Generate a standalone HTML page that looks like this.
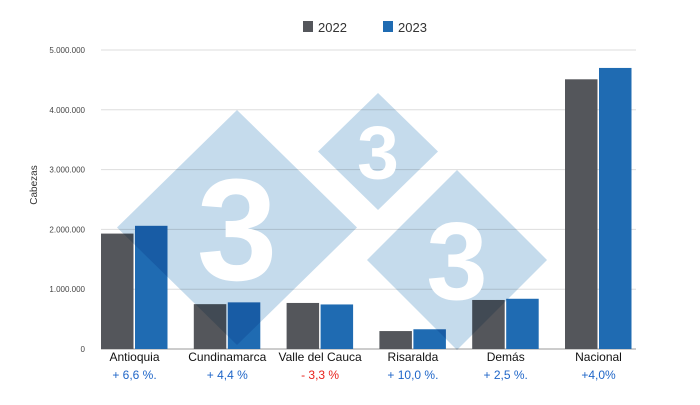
<!DOCTYPE html>
<html><head><meta charset="utf-8"><style>
body{margin:0;background:#fff;font-family:"Liberation Sans",sans-serif}
svg text{font-family:"Liberation Sans",sans-serif}
#wm polygon{mix-blend-mode:multiply}
</style></head><body>
<svg id="c" width="700" height="400">
<rect width="700" height="400" fill="#fff"/>
<g id="grid"></g><g id="bars"></g><g id="wm"></g><g id="labels"></g>
<g>
<rect x="303" y="21" width="10" height="11" fill="#54565b"/>
<text x="318" y="32" font-size="13" fill="#333">2022</text>
<rect x="383" y="21" width="10" height="11" fill="#1f6bb2"/>
<text x="398" y="32" font-size="13" fill="#333">2023</text>
</g>
<text transform="translate(37,185) rotate(-90)" text-anchor="middle" font-size="10" fill="#333">Cabezas</text>
</svg>
<script>
const categories=["Antioquia","Cundinamarca","Valle del Cauca","Risaralda","Demás","Nacional"];
const values2022=[1930000,750000,770000,300000,820000,4510000];
const values2023=[2060000,780000,745000,330000,840000,4700000];
const changes=["+ 6,6 %.","+ 4,4 %","- 3,3 %","+ 10,0 %.","+ 2,5 %.","+4,0%"];
const changeNeg=[false,false,true,false,false,false];
const ticks=[0,1000000,2000000,3000000,4000000,5000000];
const tickLabels=["0","1.000.000","2.000.000","3.000.000","4.000.000","5.000.000"];
const NS="http://www.w3.org/2000/svg";
const y0=349,pxPerUnit=(349-50)/5000000,x0=101,pitch=92.8,bw=32.5;
const y=v=>y0-v*pxPerUnit;
const gx=i=>x0+i*pitch;
function mk(tag,attrs,parent,txt){const e=document.createElementNS(NS,tag);for(const k in attrs)e.setAttribute(k,attrs[k]);if(txt!=null)e.textContent=txt;document.getElementById(parent).appendChild(e);return e;}
ticks.forEach((t,i)=>{
 const l=mk('line',{x1:101,x2:636,y1:y(t),y2:y(t),stroke:i==0?'#bbb':'#ddd','stroke-width':i==0?1.5:1},'grid');
 
 
 const tx=mk('text',{x:85,y:y(t)+3,'text-anchor':'end','font-size':8,fill:'#444'},'grid',tickLabels[i]);
 
 
});
categories.forEach((c,i)=>{
 const a=mk('rect',{x:gx(i),y:y(values2022[i]),width:bw,height:y0-y(values2022[i]),fill:'#54565b'},'bars');
 
 
 const b=mk('rect',{x:gx(i)+bw+1.5,y:y(values2023[i]),width:bw,height:y0-y(values2023[i]),fill:'#1f6bb2'},'bars');
 
 
 const cx=gx(i)+bw+1;
 const t=mk('text',{x:cx,y:361,'text-anchor':'middle','font-size':12,fill:'#111'},'labels',c);
 
 
 const p=mk('text',{x:cx,y:379,'text-anchor':'middle','font-size':12,fill:changeNeg[i]?'#e8211b':'#1f66c8'},'labels',changes[i]);
 
 
});
// watermark
const wm=[[237,110,345,120,145],[378,93,210,60,75],[457,170,350,90,110]];
wm.forEach(d=>{
 const [cx,top,bot,hw,fs]=d,cy=(top+bot)/2;
 const p=mk('polygon',{points:`${cx},${top} ${cx+hw},${cy} ${cx},${bot} ${cx-hw},${cy}`,fill:'#c5dbec'},'wm');
 
 
 const t=mk('text',{x:cx,y:cy+fs*0.36,'text-anchor':'middle','font-size':fs,'font-weight':'bold',fill:'#ffffff'},'wm','3');
 
 
});
</script>
</body></html>
